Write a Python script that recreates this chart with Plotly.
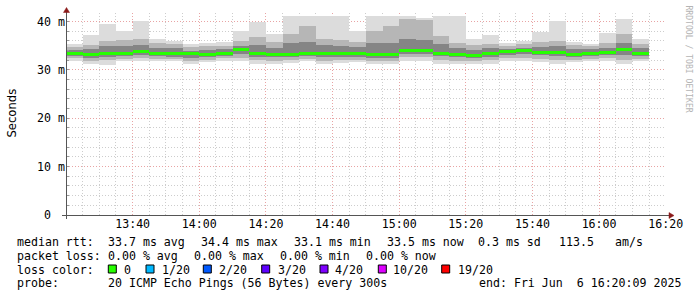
import plotly.graph_objects as go
import pandas as pd

# ---------------- data ----------------
start_time = "2025-06-06 13:20:00"
n_bars = 35
bar_start = pd.date_range(start_time, periods=n_bars, freq="5min")
centers = bar_start + pd.Timedelta(minutes=2.5)

# smoke percentiles (ms)
rtt_max = [35.3, 37.2, 39.6, 38.1, 40.1, 36.4, 36.0, 35.3, 35.5, 35.7,
           38.1, 39.9, 37.5, 41.2, 41.2, 41.2, 41.2, 38.1, 41.2, 41.2,
           41.2, 40.8, 41.2, 41.2, 36.4, 37.2, 35.6, 36.0, 37.9, 40.1,
           35.7, 35.3, 37.7, 40.5, 36.4]
rtt_p90 = [34.8, 35.2, 36.0, 36.2, 36.3, 35.6, 35.4, 34.8, 34.9, 35.0,
           36.0, 36.8, 35.8, 37.5, 39.1, 36.5, 36.2, 35.8, 38.0, 39.0,
           40.6, 40.3, 37.0, 35.6, 35.2, 35.4, 35.0, 35.4, 35.8, 36.0,
           35.2, 34.9, 35.6, 37.5, 35.4]
rtt_p75 = [34.2, 34.3, 35.0, 35.0, 35.2, 34.6, 34.5, 34.0, 34.2, 34.3,
           35.0, 35.2, 34.6, 35.5, 35.8, 35.2, 35.0, 34.8, 35.5, 35.5,
           36.5, 36.2, 35.4, 34.6, 34.2, 34.6, 34.4, 34.6, 34.8, 35.0,
           34.4, 34.3, 34.6, 35.6, 34.6]
rtt_median = [33.4, 33.1, 33.4, 33.5, 33.8, 33.5, 33.4, 33.4, 33.3, 33.4,
              34.2, 33.4, 33.3, 33.3, 33.4, 33.4, 33.4, 33.4, 33.3, 33.1,
              34.0, 34.0, 33.5, 33.3, 33.0, 33.4, 33.8, 34.0, 33.7, 33.7,
              33.1, 33.4, 33.7, 34.2, 33.4]
rtt_p25 = [32.9, 32.5, 32.7, 32.8, 33.0, 32.8, 32.7, 32.5, 32.7, 32.9,
           33.3, 32.6, 32.6, 32.6, 32.8, 32.6, 32.7, 32.7, 32.5, 32.5,
           33.3, 33.3, 32.8, 32.6, 32.4, 32.7, 33.1, 33.2, 33.0, 32.9,
           32.6, 32.8, 33.0, 33.0, 32.8]
rtt_p10 = [32.4, 31.9, 32.0, 32.3, 32.4, 32.3, 32.2, 31.9, 32.1, 32.4,
           32.5, 32.0, 31.9, 32.0, 32.3, 31.9, 32.1, 32.1, 31.9, 31.9,
           32.6, 32.6, 32.1, 31.9, 31.8, 32.1, 32.5, 32.5, 32.3, 32.1,
           32.0, 32.3, 32.4, 32.1, 32.3]
rtt_min = [31.9, 31.3, 31.1, 31.8, 31.9, 31.9, 31.8, 31.3, 31.6, 31.9,
           31.8, 31.3, 31.2, 31.5, 31.9, 31.2, 31.5, 31.6, 31.2, 31.3,
           31.8, 31.9, 31.3, 31.2, 31.2, 31.3, 31.9, 31.8, 31.6, 31.3,
           31.6, 31.8, 31.8, 31.3, 31.8]

x_tickvals = pd.date_range("2025-06-06 13:40:00", "2025-06-06 16:20:00", freq="20min")
y_tickvals = [0, 10, 20, 30, 40]
y_ticktext = ["0\u00a0\u00a0", "10 m", "20 m", "30 m", "40 m"]

loss_labels = ["0", "1/20", "2/20", "3/20", "4/20", "10/20", "19/20"]
loss_colors = ["#26ff00", "#00b8ff", "#0059ff", "#5e00ff", "#7e00ff", "#dd00ff", "#ff0000"]

# ---------------- geometry helpers (pixels -> paper) ----------------
W, H = 697, 297
ML, MR, MT, MB = 66, 31, 13, 82
PW, PH = W - ML - MR, H - MT - MB


def px(x):
    return (x - ML) / PW


def py(y):
    return (H - MB - y) / PH


MONO = "DejaVu Sans Mono"
FS = 11.6
BAR_W = 5 * 60 * 1000

fig = go.Figure()

bands = [(rtt_min, rtt_max, "#dcdcdc"),
         (rtt_p10, rtt_p90, "#b6b6b6"),
         (rtt_p25, rtt_p75, "#858585")]
for lo, hi, col in bands:
    fig.add_trace(go.Bar(
        x=centers, base=lo, y=[h - l for l, h in zip(lo, hi)],
        width=BAR_W, marker=dict(color=col, line=dict(width=0)),
        hoverinfo="skip"))

MED_T = 0.62
fig.add_trace(go.Bar(
    x=centers, base=[m - MED_T / 2 for m in rtt_median], y=[MED_T] * n_bars,
    width=BAR_W, marker=dict(color=loss_colors[0], line=dict(width=0)),
    hoverinfo="skip"))

RED_GRID = "#e8a4a4"
GRAY_GRID = "#cdcdcd"
DOTS = "1px,2px"

fig.update_layout(
    width=W, height=H,
    margin=dict(l=ML, r=MR, t=MT, b=MB, pad=0),
    paper_bgcolor="white", plot_bgcolor="white",
    barmode="overlay", bargap=0, showlegend=False,
    font=dict(family=MONO, size=FS, color="black"),
    xaxis=dict(
        type="date",
        range=["2025-06-06 13:20:00", "2025-06-06 16:20:05"],
        tickmode="array", tickvals=x_tickvals, tickformat="%H:%M",
        showgrid=True, gridcolor=RED_GRID, griddash=DOTS, gridwidth=1,
        minor=dict(dtick=BAR_W, tick0="2025-06-06 13:20:00", showgrid=True,
                   gridcolor=GRAY_GRID, griddash=DOTS, gridwidth=1),
        showline=False, zeroline=False, ticks="",
        tickfont=dict(family=MONO, size=FS, color="black"),
        fixedrange=True,
    ),
    yaxis=dict(
        range=[0, 41.78],
        tickvals=y_tickvals, ticktext=y_ticktext,
        showgrid=True, gridcolor=RED_GRID, griddash=DOTS, gridwidth=1,
        minor=dict(dtick=2, showgrid=True, gridcolor=GRAY_GRID, griddash=DOTS, gridwidth=1,
                   ticks="inside", ticklen=3, tickcolor="#999999"),
        showline=False, zeroline=False, ticks="",
        tickfont=dict(family=MONO, size=FS, color="black"),
        fixedrange=True,
    ),
)

shapes = []
AX = "#555555"
ARROW = "#8b1a1a"
# axes lines
shapes.append(dict(type="line", xref="paper", yref="paper",
                   x0=px(66.5), x1=px(66.5), y0=py(219), y1=py(10),
                   line=dict(color=AX, width=1)))
shapes.append(dict(type="line", xref="paper", yref="paper",
                   x0=px(62), x1=px(670), y0=py(215.5), y1=py(215.5),
                   line=dict(color=AX, width=1)))


def tri(points):
    d = "M " + " L ".join(f"{px(a)},{py(b)}" for a, b in points) + " Z"
    return dict(type="path", xref="paper", yref="paper", path=d,
                fillcolor=ARROW, line=dict(color=ARROW, width=0.5))


shapes.append(tri([(63.5, 12.5), (69.5, 12.5), (66.5, 7.5)]))
shapes.append(tri([(669, 212.5), (669, 218.5), (674, 215.5)]))

annotations = []


def txt(s, x, y, size=FS, color="black", family=MONO, angle=0, xanchor="left"):
    annotations.append(dict(text=s.replace(" ", "\u00a0"), xref="paper", yref="paper",
                            x=px(x), y=py(y), xanchor=xanchor, yanchor="middle",
                            showarrow=False, textangle=angle,
                            font=dict(family=family, size=size, color=color),
                            borderpad=0))


# y title and watermark
annotations.append(dict(text="Seconds", xref="paper", yref="paper", x=px(11), y=py(113.5),
                        xanchor="center", yanchor="middle", showarrow=False, textangle=-90,
                        font=dict(family="DejaVu Sans", size=FS, color="black")))
annotations.append(dict(text="RRDTOOL / TOBI OETIKER".replace(" ", "\u00a0"), xref="paper", yref="paper",
                        x=px(688.5), y=py(59), xanchor="center", yanchor="middle",
                        showarrow=False, textangle=90,
                        font=dict(family=MONO, size=8.1, color="#b4b4b4")))

# legend lines
L1, L2, L3, L4 = 241.8, 255.6, 269.5, 283.3
for s, x in [("median rtt:", 16), ("33.7 ms avg", 107.3), ("34.4 ms max", 200),
             ("33.1 ms min", 293.3), ("33.5 ms now", 386), ("0.3 ms sd", 476.7),
             ("113.5", 558.3), ("am/s", 614)]:
    txt(s, x, L1)
for s, x in [("packet loss:", 16), ("0.00 % avg", 107.3), ("0.00 % max", 193.3),
             ("0.00 % min", 279.3), ("0.00 % now", 365)]:
    txt(s, x, L2)
txt("loss color:", 16, L3)
box_x = [108.3, 146, 203.3, 261.7, 320, 378.3, 441.7]
lab_x = [123.3, 160.7, 218.3, 276.7, 333.7, 391.7, 456.7]
for lbl, col, bx, lx in zip(loss_labels, loss_colors, box_x, lab_x):
    shapes.append(dict(type="rect", xref="paper", yref="paper",
                       x0=px(bx), x1=px(bx + 8), y0=py(265), y1=py(273),
                       fillcolor=col, line=dict(color="black", width=1)))
    txt(lbl, lx, L3)
txt("probe:", 16, L4)
txt("20 ICMP Echo Pings (56 Bytes) every 300s", 107.3, L4)
txt("end: Fri Jun  6 16:20:09 2025", 478.3, L4)

fig.update_layout(shapes=shapes, annotations=annotations)

fig.write_html("out.html")
